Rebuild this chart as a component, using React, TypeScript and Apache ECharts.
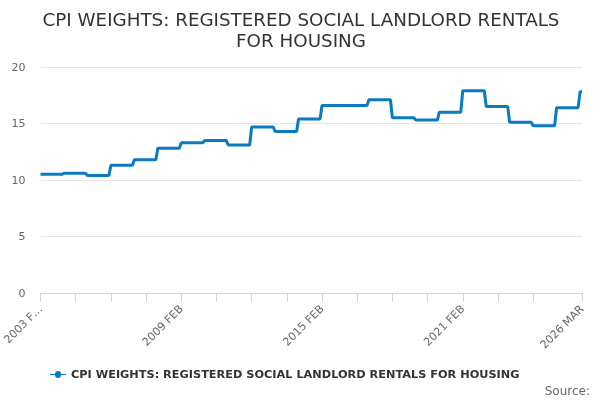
import React, { useEffect, useRef } from "react";
import * as echarts from "echarts";

const TITLE = "CPI WEIGHTS: REGISTERED SOCIAL LANDLORD RENTALS\nFOR HOUSING";
const SERIES_NAME = "CPI WEIGHTS: REGISTERED SOCIAL LANDLORD RENTALS FOR HOUSING";
const START_YEAR = 2003;
const END_LABEL = "2026 MAR";
const MONTHS = ["JAN", "FEB", "MAR", "APR", "MAY", "JUN", "JUL", "AUG", "SEP", "OCT", "NOV", "DEC"];
// Annual weight (applies from February of the year through January of the next)
const WEIGHT_YEARS = [2003, 2004, 2005, 2006, 2007, 2008, 2009, 2010, 2011, 2012, 2013, 2014, 2015, 2016, 2017, 2018, 2019, 2020, 2021, 2022, 2023, 2024, 2025, 2026];
const WEIGHTS = [10.5, 10.6, 10.4, 11.3, 11.8, 12.8, 13.3, 13.5, 13.1, 14.7, 14.3, 15.4, 16.6, 16.6, 17.1, 15.5, 15.3, 16.0, 17.9, 16.5, 15.1, 14.8, 16.4, 17.8];
const Y_TICKS = [0, 5, 10, 15, 20];

function buildMonthly() {
  const cats: string[] = [];
  const vals: number[] = [];
  let i = 0;
  while (true) {
    const m = (1 + i) % 12;
    const y = START_YEAR + Math.floor((1 + i) / 12);
    const label = `${y} ${MONTHS[m]}`;
    cats.push(label);
    vals.push(WEIGHTS[WEIGHT_YEARS.indexOf(START_YEAR + Math.floor(i / 12))]);
    if (label === END_LABEL) break;
    i++;
  }
  return { cats, vals };
}

export default function App() {
  const ref = useRef<HTMLDivElement>(null);
  useEffect(() => {
    if (!ref.current) return;
    const chart = echarts.init(ref.current, undefined, { renderer: "svg" });
    const { cats, vals } = buildMonthly();
    const last = cats.length - 1;
    const font = "DejaVu Sans";
    chart.setOption({
      animation: false,
      textStyle: { fontFamily: font },
      title: {
        text: TITLE,
        left: 296,
        textAlign: "center",
        top: 4,
        textStyle: { fontFamily: font, fontSize: 18.3, fontWeight: "normal", color: "#333333", lineHeight: 21 },
      },
      legend: {
        bottom: 15,
        left: 45,
        itemWidth: 16,
        itemHeight: 8,
        itemGap: 6,
        textStyle: { fontFamily: font, fontSize: 11.3, fontWeight: "bold", color: "#333333" },
        data: [{ name: SERIES_NAME, icon: "path://M0,3.5 L5,3.5 A2.5,2.5 0 1 1 11,3.5 L16,3.5 L16,4.5 L11,4.5 A2.5,2.5 0 1 1 5,4.5 L0,4.5 Z" }],
      },
      graphic: [
        {
          type: "text",
          right: 10,
          bottom: 3,
          style: { text: "Source:", fontFamily: font, fontSize: 12, fill: "#666666" },
        },
      ],
      grid: { left: 39, right: 18, top: 67, bottom: 107 },
      xAxis: {
        type: "category",
        data: cats,
        boundaryGap: false,
        axisLine: { lineStyle: { color: "#ccd6eb" } },
        axisTick: {
          length: 9,
          lineStyle: { color: "#ccd6eb" },
          interval: (idx: number) => idx === last || (idx % 18 === 0 && last - idx > 18),
        },
        axisLabel: {
          rotate: 45,
          color: "#666666",
          fontSize: 11,
          fontFamily: font,
          margin: 14,
          interval: (idx: number) => idx === last || (idx % 72 === 0 && last - idx > 36),
          formatter: (v: string, idx: number) => (idx === 0 ? v.slice(0, 6) + "\u2026" : v),
        },
        splitLine: { show: false },
      },
      yAxis: {
        type: "value",
        min: Y_TICKS[0],
        max: Y_TICKS[Y_TICKS.length - 1],
        interval: 5,
        axisLine: { show: false },
        axisTick: { show: false },
        axisLabel: { color: "#666666", fontSize: 11, fontFamily: font, margin: 15 },
        splitLine: { lineStyle: { color: "#e6e6e6" } },
      },
      series: [
        {
          name: SERIES_NAME,
          type: "line",
          data: vals,
          symbol: "circle",
          symbolSize: 4,
          showSymbol: false,
          lineStyle: { width: 3, color: "#0a7bc1" },
          itemStyle: { color: "#0a7bc1" },
        },
      ],
    });
    return () => chart.dispose();
  }, []);
  return <div ref={ref} style={{ position: "fixed", left: 0, top: 0, width: 600, height: 400 }} />;
}
